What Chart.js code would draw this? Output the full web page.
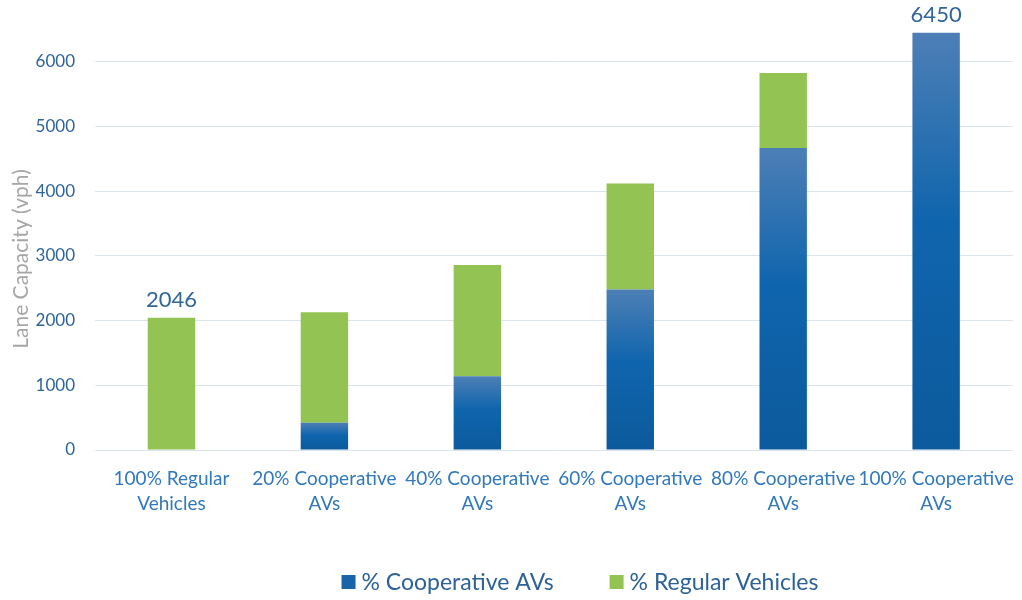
<!DOCTYPE html>
<html>
<head>
<meta charset="utf-8">
<script src="https://cdn.jsdelivr.net/npm/chart.js@4.4.1/dist/chart.umd.min.js"></script>
<style>
  html, body { margin: 0; padding: 0; background: #ffffff; }
  #wrap { width: 1022px; height: 600px; position: relative; }
</style>
</head>
<body>
<div id="wrap"><canvas id="capacityChart"></canvas></div>
<script>
const scenarios = [
  ["100% Regular", "Vehicles"],
  ["20% Cooperative", "AVs"],
  ["40% Cooperative", "AVs"],
  ["60% Cooperative", "AVs"],
  ["80% Cooperative", "AVs"],
  ["100% Cooperative", "AVs"],
];
const cooperativeAVs = [0, 420, 1140, 2480, 4670, 6450];
const regularVehicles = [2046, 1710, 1720, 1640, 1160, 0];
const calloutBars = [0, 5];
const yTicks = [0, 1000, 2000, 3000, 4000, 5000, 6000];

const FONT = "Lato, 'Open Sans', sans-serif";
const BLUE = "#1b63a8";
const GREEN = "#92c353";

// vertical shading on the cooperative segment: greyish top, saturated body
function blueFill(ctx) {
  const chart = ctx.chart;
  if (ctx.type !== "data" || !chart.chartArea) return BLUE;
  const y = chart.scales.y;
  const top = y.getPixelForValue(ctx.raw);
  const bottom = y.getPixelForValue(0);
  if (!isFinite(top) || !isFinite(bottom) || top >= bottom) return BLUE;
  const g = chart.ctx.createLinearGradient(0, top, 0, bottom);
  g.addColorStop(0, "#4d7fb6");
  g.addColorStop(0.45, "#0f65ad");
  g.addColorStop(1, "#0c5a9d");
  return g;
}

const totalsLabels = {
  id: "totalsLabels",
  afterDatasetsDraw(chart) {
    const c = chart.ctx;
    c.save();
    c.font = "22px " + FONT;
    c.fillStyle = "#2f679c";
    c.textAlign = "center";
    c.textBaseline = "bottom";
    calloutBars.forEach((i) => {
      const total = cooperativeAVs[i] + regularVehicles[i];
      let top = Infinity;
      let x = 0;
      chart.data.datasets.forEach((ds, d) => {
        const el = chart.getDatasetMeta(d).data[i];
        if (ds.data[i] > 0 && el.y < top) { top = el.y; x = el.x; }
      });
      c.fillText(String(total), x, top - 7);
    });
    c.restore();
  },
};

// axis title sits a little below the middle of the axis
const yTitle = {
  id: "yTitle",
  afterDraw(chart) {
    const c = chart.ctx;
    c.save();
    c.translate(21, 259);
    c.rotate(-Math.PI / 2);
    c.font = "21px " + FONT;
    c.fillStyle = "#a6a6a6";
    c.textAlign = "center";
    c.textBaseline = "middle";
    c.fillText("Lane Capacity (vph)", 0, 0);
    c.restore();
  },
};

const bottomLegend = {
  id: "bottomLegend",
  afterDraw(chart) {
    const c = chart.ctx;
    const items = [
      { text: "% Cooperative AVs", color: BLUE },
      { text: "% Regular Vehicles", color: GREEN },
    ];
    const box = 14, gapText = 6, gapItem = 56, cy = 582, cx = 580;
    c.save();
    c.font = "23px " + FONT;
    c.textBaseline = "middle";
    const widths = items.map((it) => box + gapText + c.measureText(it.text).width);
    const total = widths.reduce((a, b) => a + b, 0) + gapItem * (items.length - 1);
    let x = cx - total / 2;
    items.forEach((it, k) => {
      c.fillStyle = it.color;
      c.fillRect(x, cy - box / 2, box, box);
      c.fillStyle = "#2d6297";
      c.fillText(it.text, x + box + gapText, cy + 1);
      x += widths[k] + gapItem;
    });
    c.restore();
  },
};

new Chart(document.getElementById("capacityChart"), {
  type: "bar",
  data: {
    labels: scenarios,
    datasets: [
      {
        label: "% Cooperative AVs",
        data: cooperativeAVs,
        backgroundColor: blueFill,
        barPercentage: 0.31,
        categoryPercentage: 1,
      },
      {
        label: "% Regular Vehicles",
        data: regularVehicles,
        backgroundColor: GREEN,
        barPercentage: 0.31,
        categoryPercentage: 1,
      },
    ],
  },
  options: {
    responsive: true,
    maintainAspectRatio: false,
    animation: false,
    layout: { padding: { top: 0, right: 3, bottom: 0, left: 0 } },
    plugins: {
      legend: { display: false },
      tooltip: { enabled: false },
    },
    scales: {
      x: {
        stacked: true,
        grid: { display: false },
        border: { display: false },
        ticks: {
          color: "#3179bb",
          font: { family: FONT, size: 19, lineHeight: 25 / 19 },
          padding: 8,
          maxRotation: 0,
          autoSkip: false,
        },
        afterFit(scale) { scale.height = 150; },
      },
      y: {
        stacked: true,
        min: 0,
        max: 6800,
        grid: {
          color: "#d9e4ef",
          lineWidth: 1,
          drawTicks: true,
          tickLength: 20,
          tickColor: "rgba(0,0,0,0)",
        },
        border: { display: false },
        ticks: {
          stepSize: 1000,
          color: "#2d6499",
          font: { family: FONT, size: 17 },
          padding: 0,
          callback: (v) => String(v),
        },
        afterBuildTicks(scale) {
          scale.ticks = yTicks.map((v) => ({ value: v }));
        },
        afterFit(scale) { scale.width = 95; },
      },
    },
  },
  plugins: [totalsLabels, yTitle, bottomLegend],
});
</script>
</body>
</html>
